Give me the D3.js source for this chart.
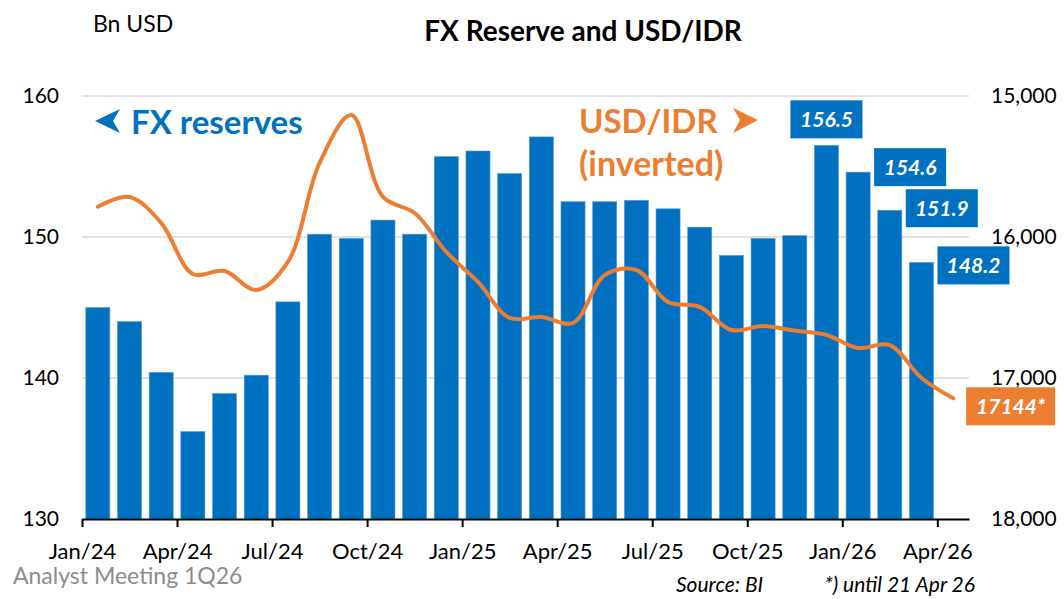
<!DOCTYPE html>
<html>
<head>
<meta charset="utf-8">
<script src="https://cdn.jsdelivr.net/npm/d3@7"></script>
<style>
  body { margin: 0; background: #fff; }
  svg text { font-family: Lato, "Open Sans", sans-serif; }
</style>
</head>
<body>
<div id="chart"></div>
<script>
// Monthly categories Jan/24 .. Apr/26
const months = ["Jan/24","Feb/24","Mar/24","Apr/24","May/24","Jun/24","Jul/24","Aug/24","Sep/24","Oct/24","Nov/24","Dec/24",
  "Jan/25","Feb/25","Mar/25","Apr/25","May/25","Jun/25","Jul/25","Aug/25","Sep/25","Oct/25","Nov/25","Dec/25",
  "Jan/26","Feb/26","Mar/26","Apr/26"];

// FX reserves, Bn USD (no bar yet for Apr/26)
const fxReserves = [145.0, 144.0, 140.4, 136.2, 138.9, 140.2, 145.4, 150.2, 149.9, 151.2, 150.2, 155.7,
  156.1, 154.5, 157.1, 152.5, 152.5, 152.6, 152.0, 150.7, 148.7, 149.9, 150.1, 156.5,
  154.6, 151.9, 148.2];

// USD/IDR monthly (last = until 21 Apr 26)
const usdIdr = [15785, 15716, 15900, 16262, 16241, 16376, 16177, 15475, 15135, 15716, 15830, 16106,
  16319, 16574, 16567, 16610, 16270, 16234, 16461, 16496, 16660, 16631, 16664, 16695,
  16787, 16766, 17000, 17144];

const leftTicks = [130, 140, 150, 160];
const rightTicks = [15000, 16000, 17000, 18000];
const quarterIdx = [0, 3, 6, 9, 12, 15, 18, 21, 24, 27];
const labelledBars = [23, 24, 25, 26];

const W = 1064, H = 599;
const plot = { left: 82, right: 969, top: 96, bottom: 519 };
const blue = "#0070C0", orange = "#ED7D31";

const svg = d3.select("#chart").append("svg")
    .attr("width", W)
    .attr("height", H);

// Scales
const x = d3.scaleBand().domain(months).range([plot.left, plot.right])
    .paddingInner(0.24).paddingOuter(0.12);
const xEdge = d3.scaleLinear().domain([0, months.length]).range([plot.left, plot.right]);
const y = d3.scaleLinear().domain([130, 160]).range([plot.bottom, plot.top]);
const y2 = d3.scaleLinear().domain([15000, 18000]).range([plot.top, plot.bottom]);

// Gridlines
svg.append("g")
  .selectAll("line")
  .data(leftTicks.slice(1))
  .enter().append("line")
    .attr("x1", plot.left)
    .attr("x2", plot.right)
    .attr("y1", d => y(d))
    .attr("y2", d => y(d))
    .style("stroke", "#d9d9d9")
    .style("stroke-width", 1.5);

// Left axis labels
svg.append("g")
  .selectAll("text")
  .data(leftTicks)
  .enter().append("text")
    .attr("x", 59)
    .attr("y", d => y(d))
    .attr("dy", "0.35em")
    .style("text-anchor", "end")
    .style("font-size", "21px")
    .text(d => d);

// Right axis labels
svg.append("g")
  .selectAll("text")
  .data(rightTicks)
  .enter().append("text")
    .attr("x", 991)
    .attr("y", d => y2(d))
    .attr("dy", "0.35em")
    .style("text-anchor", "start")
    .style("font-size", "21px")
    .text(d => d3.format(",")(d));

// Bars
svg.append("g")
  .selectAll("rect")
  .data(fxReserves)
  .enter().append("rect")
    .attr("x", (d, i) => x(months[i]))
    .attr("width", x.bandwidth())
    .attr("y", d => y(d))
    .attr("height", d => y(130) - y(d))
    .style("fill", blue)
    .style("stroke", "#5b9bd5")
    .style("stroke-width", 0.6);

// Bottom axis
const xAxis = d3.axisBottom(xEdge)
    .tickValues(quarterIdx)
    .tickFormat(i => months[i])
    .tickSize(8)
    .tickSizeOuter(0);

const axisG = svg.append("g")
    .attr("transform", `translate(0,${plot.bottom})`)
    .call(xAxis);
axisG.select(".domain").attr("stroke", "#000").attr("stroke-width", 2);
axisG.selectAll(".tick line").attr("stroke", "#000").attr("stroke-width", 2);
axisG.selectAll(".tick text")
    .attr("y", 24)
    .attr("fill", "#000")
    .style("font-family", "Lato, sans-serif")
    .style("font-size", "22px");

// USD/IDR line (inverted)
const line = d3.line()
    .x((d, i) => x(months[i]) + x.bandwidth() / 2)
    .y(d => y2(d))
    .curve(d3.curveCatmullRom.alpha(0.5));

svg.append("path")
    .datum(usdIdr)
    .attr("d", line)
    .style("fill", "none")
    .style("stroke", orange)
    .style("stroke-width", 4)
    .style("stroke-linecap", "round");

// Value labels on last bars
const labelPos = i => {
  const cx = x(months[i]) + x.bandwidth() / 2;
  if (i === 23) return { cx: cx, cy: y(fxReserves[i]) - 26 };
  return { cx: cx + 52, cy: y(fxReserves[i]) - (i === 24 ? 5 : i === 26 ? -3 : 2) };
};

const labels = svg.append("g")
  .selectAll("g")
  .data(labelledBars)
  .enter().append("g")
    .attr("transform", i => { const p = labelPos(i); return `translate(${p.cx},${p.cy})`; });

labels.append("rect")
    .attr("x", -36)
    .attr("y", -19)
    .attr("width", 72)
    .attr("height", 38)
    .style("fill", blue);

labels.append("text")
    .attr("dy", "0.36em")
    .style("text-anchor", "middle")
    .style("fill", "#fff")
    .style("font-size", "21px")
    .style("font-weight", "bold")
    .style("font-style", "italic")
    .text(i => d3.format(".1f")(fxReserves[i]));

// Last USD/IDR label
const last = usdIdr.length - 1;
const lastX = x(months[last]) + x.bandwidth() / 2;
const lastG = svg.append("g")
    .attr("transform", `translate(${lastX + 13},${y2(usdIdr[last]) - 11})`);
lastG.append("rect")
    .attr("width", 89)
    .attr("height", 38)
    .style("fill", orange);
lastG.append("text")
    .attr("x", 44.5)
    .attr("y", 19)
    .attr("dy", "0.36em")
    .style("text-anchor", "middle")
    .style("fill", "#fff")
    .style("font-size", "21px")
    .style("font-weight", "bold")
    .style("font-style", "italic")
    .text(usdIdr[last] + "*");

// Title and unit
svg.append("text")
    .attr("x", 583)
    .attr("y", 41)
    .style("text-anchor", "middle")
    .style("font-size", "28px")
    .style("font-weight", "bold")
    .text("FX Reserve and USD/IDR");

svg.append("text")
    .attr("x", 93)
    .attr("y", 32)
    .style("font-size", "23px")
    .text("Bn USD");

// Series annotations
svg.append("path")
    .attr("d", "M95,121 L120,109 L113,121 L120,133 Z")
    .style("fill", blue);
svg.append("text")
    .attr("x", 131)
    .attr("y", 134)
    .style("fill", blue)
    .style("font-size", "33px")
    .style("font-weight", "bold")
    .text("FX reserves");

svg.append("text")
    .attr("x", 579)
    .attr("y", 133)
    .style("fill", orange)
    .style("font-size", "33px")
    .style("font-weight", "bold")
    .text("USD/IDR");
svg.append("path")
    .attr("d", "M758,120 L733,108 L740,120 L733,133 Z")
    .style("fill", orange);
svg.append("text")
    .attr("x", 579)
    .attr("y", 176)
    .style("fill", orange)
    .style("font-size", "34px")
    .style("font-weight", "bold")
    .text("(inverted)");

// Footer
svg.append("text")
    .attr("x", 13)
    .attr("y", 584)
    .style("fill", "#8c8c8c")
    .style("font-size", "23px")
    .text("Analyst Meeting 1Q26");

svg.append("text")
    .attr("x", 676)
    .attr("y", 592)
    .style("font-size", "21px")
    .style("font-style", "italic")
    .text("Source: BI");

svg.append("text")
    .attr("x", 975)
    .attr("y", 592)
    .style("text-anchor", "end")
    .style("font-size", "21px")
    .style("font-style", "italic")
    .text("*) until 21 Apr 26");
</script>
</body>
</html>
